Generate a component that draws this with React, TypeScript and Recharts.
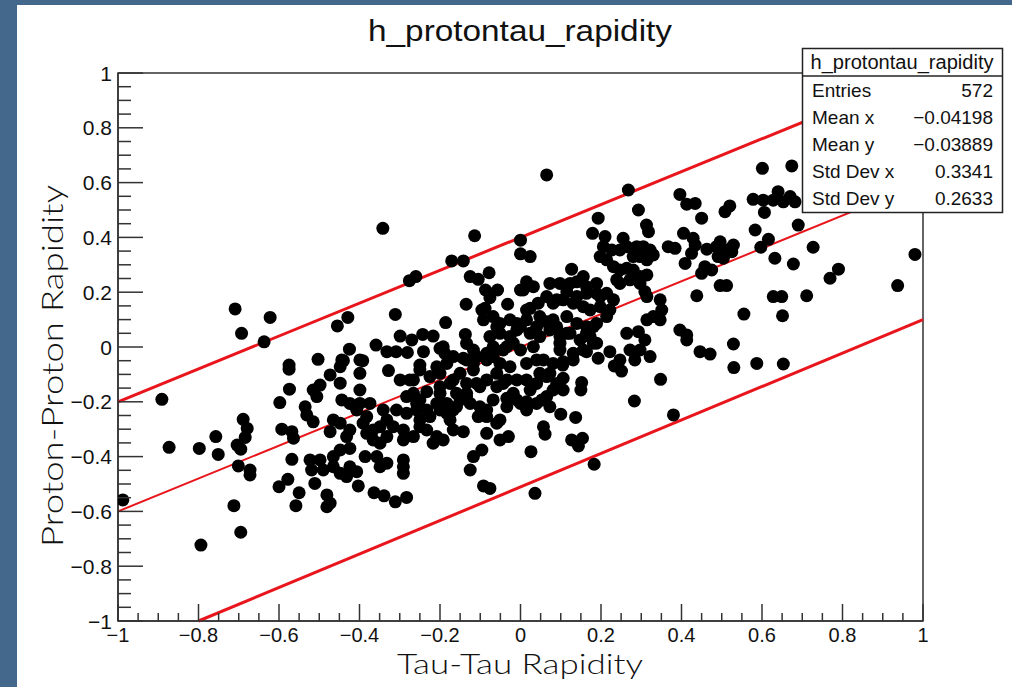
import React from 'react';
import { ScatterChart, Scatter, XAxis, YAxis, ReferenceLine, ReferenceArea } from 'recharts';

// tau-tau rapidity (x), proton-proton rapidity (y)
const points: [number, number][] = [
  [-0.342, 0.433], [-0.114, 0.406], [0, 0.39], [0, 0.34], [-0.171, 0.314], [-0.142, 0.314],
  [-0.276, 0.242], [-0.26, 0.257], [-0.125, 0.257], [-0.105, 0.247], [-0.078, 0.271],
  [-0.087, 0.208], [-0.057, 0.208], [0, 0.208], [-0.135, 0.156], [-0.032, 0.156], [-0.076, 0.18],
  [-0.709, 0.139], [-0.693, 0.05], [-0.622, 0.108], [-0.637, 0.019], [-0.429, 0.108],
  [-0.455, 0.077], [-0.311, 0.119], [-0.186, 0.089], [-0.299, 0.04], [-0.27, 0.026],
  [-0.243, 0.046], [-0.217, 0.04], [-0.137, 0.046], [-0.134, 0.013], [-0.359, 0.007],
  [-0.425, -0.008], [-0.332, -0.017], [-0.309, -0.017], [-0.281, -0.02], [-0.241, -0.017],
  [-0.2, -0.005], [-0.188, -0.023], [-0.167, -0.035], [-0.142, -0.041], [-0.503, -0.045],
  [-0.44, -0.05], [-0.392, -0.05], [-0.575, -0.066], [-0.25, -0.066],
  [-0.096, 0.135], [-0.092, 0.099], [-0.068, 0.111], [-0.051, 0.086], [-0.026, 0.099],
  [-0.009, 0.086], [-0.117, -0.011], [-0.109, -0.035], [-0.084, -0.023], [-0.068, 0.001],
  [-0.043, -0.011], [-0.018, 0.014], [-0.076, 0.038], [-0.051, 0.05], [-0.026, 0.038],
  [-0.009, 0.062], [-0.059, 0.074], [-0.117, -0.06],
  [0.065, 0.628], [0.268, 0.573], [0.601, 0.652], [0.674, 0.661], [0.396, 0.557], [0.413, 0.521],
  [0.434, 0.524], [0.508, 0.494], [0.52, 0.515], [0.45, 0.47], [0.293, 0.5], [0.193, 0.47],
  [0.578, 0.539], [0.603, 0.536], [0.628, 0.536], [0.64, 0.567], [0.653, 0.53], [0.67, 0.549],
  [0.682, 0.53], [0.606, 0.491], [0.583, 0.427], [0.616, 0.393], [0.597, 0.364], [0.69, 0.445],
  [0.727, 0.364], [0.632, 0.324], [0.678, 0.303], [0.79, 0.284], [0.769, 0.251], [0.98, 0.338],
  [0.937, 0.224], [0.711, 0.187], [0.628, 0.184], [0.649, 0.184], [0.651, 0.114], [0.555, 0.12],
  [0.529, 0.011], [0.496, 0.224], [0.512, 0.224], [0.438, 0.187], [0.458, 0.293], [0.475, 0.281],
  [0.45, 0.269], [0.405, 0.415], [0.429, 0.397], [0.434, 0.372], [0.463, 0.357], [0.487, 0.366],
  [0.496, 0.384], [0.512, 0.354], [0.529, 0.372], [0.525, 0.348], [0.491, 0.33], [0.504, 0.324],
  [0.409, 0.305], [0.425, 0.342], [0.367, 0.366], [0.384, 0.36], [0.313, 0.445], [0.318, 0.421],
  [0.255, 0.397], [0.264, 0.366], [0.247, 0.354], [0.21, 0.403], [0.206, 0.366], [0.227, 0.354],
  [0.198, 0.33], [0.214, 0.318], [0.179, 0.415], [0.289, 0.366], [0.305, 0.366], [0.322, 0.354],
  [0.28, 0.33], [0.297, 0.33], [0.314, 0.318], [0.33, 0.336], [0.231, 0.293], [0.247, 0.281],
  [0.264, 0.287], [0.28, 0.281], [0.297, 0.257], [0.314, 0.263], [0.239, 0.245], [0.247, 0.232],
  [0.272, 0.245], [0.297, 0.232], [0.309, 0.202], [0.314, 0.184], [0.347, 0.172], [0.351, 0.135],
  [0.33, 0.111], [0.347, 0.099], [0.314, 0.099], [0.127, 0.284], [0.156, 0.257], [0.14, 0.238],
  [0.164, 0.22], [0.189, 0.232], [0.189, 0.196], [0.214, 0.196], [0.231, 0.172], [0.073, 0.232],
  [0.098, 0.232], [0.123, 0.232], [0.015, 0.238], [0.032, 0.22], [0.007, 0.208], [0.024, 0.33],
  [0.044, 0.16], [0.065, 0.184], [0.081, 0.16], [0.106, 0.172], [0.131, 0.16], [0.156, 0.147],
  [0.173, 0.135], [0.198, 0.147], [0.222, 0.135], [0.015, 0.135], [0.048, 0.111], [0.081, 0.099],
  [0.115, 0.111], [0.14, 0.086], [0.164, 0.074], [0.189, 0.086], [0.214, 0.111], [0, 0.074],
  [0.024, 0.05], [0.048, 0.038], [0.073, 0.062], [0.098, 0.038], [0.123, 0.05], [0.148, 0.026],
  [0.173, 0.038], [0.189, 0.014], [0.264, 0.05], [0.293, 0.056], [0.309, 0.026], [0.297, -0.011],
  [0.272, -0.011], [0.396, 0.062], [0.413, 0.044], [0.413, 0.026], [0.446, -0.017], [0.471, -0.026],
  [0.222, -0.017], [0.247, -0.047], [0.106, -0.054], [0.131, -0.023], [0.164, -0.017],
  [0.193, -0.041], [0.587, -0.06], [0.653, -0.062], [0.284, -0.047], [0.322, -0.035],
  [-0.891, -0.191], [-0.988, -0.558], [-0.873, -0.366], [-0.798, -0.37], [-0.751, -0.392],
  [-0.757, -0.327], [-0.689, -0.264], [-0.679, -0.297], [-0.684, -0.33], [-0.704, -0.358],
  [-0.695, -0.373], [-0.701, -0.434], [-0.672, -0.449], [-0.672, -0.467], [-0.712, -0.579],
  [-0.695, -0.676], [-0.794, -0.723], [-0.575, -0.081], [-0.574, -0.154], [-0.598, -0.203],
  [-0.593, -0.3], [-0.568, -0.309], [-0.564, -0.333], [-0.568, -0.41], [-0.578, -0.483],
  [-0.6, -0.51], [-0.55, -0.532], [-0.558, -0.579], [-0.511, -0.498], [-0.481, -0.54],
  [-0.473, -0.57], [-0.481, -0.583], [-0.523, -0.412], [-0.498, -0.412], [-0.519, -0.449],
  [-0.49, -0.449], [-0.465, -0.4], [-0.448, -0.376], [-0.424, -0.37], [-0.465, -0.437],
  [-0.448, -0.461], [-0.424, -0.437], [-0.407, -0.455], [-0.432, -0.473], [-0.386, -0.4],
  [-0.403, -0.507], [-0.364, -0.532], [-0.339, -0.543], [-0.311, -0.565], [-0.283, -0.549],
  [-0.357, -0.4], [-0.349, -0.437], [-0.332, -0.424], [-0.291, -0.412], [-0.291, -0.437],
  [-0.291, -0.461], [-0.535, -0.218], [-0.531, -0.248], [-0.515, -0.273], [-0.515, -0.157],
  [-0.498, -0.139], [-0.506, -0.181], [-0.473, -0.102], [-0.448, -0.132], [-0.448, -0.072],
  [-0.444, -0.047], [-0.399, -0.096], [-0.399, -0.157], [-0.399, -0.047], [-0.328, -0.086],
  [-0.465, -0.266], [-0.448, -0.278], [-0.424, -0.303], [-0.432, -0.327], [-0.473, -0.309],
  [-0.444, -0.193], [-0.424, -0.206], [-0.399, -0.206], [-0.407, -0.23], [-0.382, -0.254],
  [-0.374, -0.206], [-0.391, -0.278], [-0.382, -0.315], [-0.366, -0.303], [-0.366, -0.339],
  [-0.349, -0.351], [-0.332, -0.327], [-0.349, -0.291], [-0.332, -0.266], [-0.341, -0.23],
  [-0.308, -0.23], [-0.283, -0.242], [-0.258, -0.23], [-0.25, -0.193], [-0.266, -0.169],
  [-0.299, -0.12], [-0.266, -0.12], [-0.25, -0.084], [-0.2, -0.096], [-0.2, -0.145],
  [-0.233, -0.163], [-0.316, -0.291], [-0.291, -0.303], [-0.266, -0.327], [-0.291, -0.339],
  [-0.25, -0.291], [-0.233, -0.303], [-0.208, -0.327], [-0.217, -0.351], [-0.192, -0.339],
  [-0.167, -0.303], [-0.142, -0.309], [-0.25, -0.266], [-0.225, -0.254], [-0.2, -0.23],
  [-0.167, -0.23], [-0.15, -0.193], [-0.125, -0.206], [-0.101, -0.218], [-0.084, -0.254],
  [-0.051, -0.266], [-0.068, -0.193], [-0.034, -0.187], [-0.051, -0.339], [-0.03, -0.327],
  [-0.084, -0.315], [-0.018, -0.169], [-0.125, -0.449], [-0.117, -0.4], [-0.096, -0.376],
  [-0.092, -0.507], [-0.076, -0.516], [-0.105, -0.254], [-0.208, -0.072], [-0.183, -0.06],
  [-0.167, -0.12], [-0.15, -0.096], [-0.134, -0.133], [-0.117, -0.084], [-0.101, -0.145],
  [-0.084, -0.12], [-0.059, -0.096], [-0.043, -0.133], [-0.026, -0.072], [-0.009, -0.12],
  [-0.125, -0.047], [-0.084, -0.047], [-0.159, -0.169], [-0.134, -0.169], [-0.2, -0.169],
  [-0.183, -0.206],
  [0.036, -0.534], [0.183, -0.428], [0.38, -0.248], [0.283, -0.197], [0.348, -0.118],
  [0.53, -0.075], [0.233, -0.069], [0.251, -0.088], [0.026, -0.382], [0.061, -0.318],
  [0.127, -0.339], [0.144, -0.361], [0.154, -0.333], [0.1, -0.245], [0.137, -0.257],
  [0.152, -0.13], [0.15, -0.157], [0.105, -0.066], [0.131, -0.047], [0.106, -0.114],
  [0.106, -0.157], [0.081, -0.157], [0.073, -0.218], [0.053, -0.193], [0.024, -0.157],
  [0.015, -0.2], [0, -0.206], [0.048, -0.096], [0.073, -0.096], [0.015, -0.06], [0.04, -0.047],
  // dense core
  [0.115, 0.202], [0.024, 0.141], [0.09, 0.172], [0.14, 0.184], [0.164, 0.196], [0.198, 0.184],
  [0.015, 0.099], [0.04, 0.074], [0.065, 0.092], [0.09, 0.074], [0.181, 0.074], [-0.088, 0.141],
  [-0.192, 0.001], [-0.134, -0.047], [-0.034, 0.001], [0, -0.011], [0.032, 0.001], [0.098, 0.014],
  [0.115, 0.05], [0.164, 0.05], [0.181, 0.014], [-0.068, -0.035], [-0.051, -0.06], [0.057, -0.047],
  [0.081, -0.06], [0.156, -0.011], [0.098, -0.011], [-0.225, -0.108], [-0.175, -0.133],
  [-0.275, -0.12], [-0.109, -0.133], [-0.059, -0.145], [-0.034, -0.12], [0.015, -0.12],
  [0.04, -0.133], [0.065, -0.108], [0.09, -0.133], [-0.283, -0.181], [-0.258, -0.206],
  [-0.233, -0.23], [-0.208, -0.206], [-0.183, -0.242], [-0.159, -0.218], [-0.134, -0.181],
  [-0.084, -0.23], [-0.034, -0.218], [-0.009, -0.193], [0.015, -0.23], [0.04, -0.206],
  [0.065, -0.181], [-0.175, -0.266], [-0.059, -0.278], [0.057, -0.291],
];

// the three red lines (end points, data units)
const upperBand = [{ x: -1, y: -0.2 }, { x: 1, y: 1 }];
const centreLine = [{ x: -1, y: -0.6 }, { x: 1, y: 0.6 }];
const lowerBand = [{ x: -0.8, y: -1 }, { x: 1, y: 0.1 }];

const axisTicks = [
  -1, -0.95, -0.9, -0.85, -0.8, -0.75, -0.7, -0.65, -0.6, -0.55, -0.5, -0.45, -0.4, -0.35,
  -0.3, -0.25, -0.2, -0.15, -0.1, -0.05, 0, 0.05, 0.1, 0.15, 0.2, 0.25, 0.3, 0.35, 0.4, 0.45,
  0.5, 0.55, 0.6, 0.65, 0.7, 0.75, 0.8, 0.85, 0.9, 0.95, 1,
];
const majorTicks = [-1, -0.8, -0.6, -0.4, -0.2, 0, 0.2, 0.4, 0.6, 0.8, 1];

const statsLabels = ['Entries', 'Mean x', 'Mean y', 'Std Dev x', 'Std Dev y'];
const statsValues = ['572', '\u22120.04198', '\u22120.03889', '0.3341', '0.2633'];

const histName = 'h_protontau_rapidity';
const HELV = '"Liberation Sans", Arial, Helvetica, sans-serif';
const GOTHIC = 'Lato, "Noto Sans", sans-serif';
const RED = '#e8161c';

const pointData = points.map(([x, y]) => ({ x, y }));

const isMajor = (v: number) => majorTicks.some((m) => Math.abs(m - v) < 1e-6);
const fmt = (v: number) => {
  const r = Math.round(v * 10) / 10;
  return r < 0 ? '\u2212' + String(-r) : String(r);
};

// ROOT style: ticks point into the frame, labels outside
function XTick(props: any) {
  const { x, y, payload } = props;
  const major = isMajor(payload.value);
  return (
    <g>
      <line x1={x} x2={x} y1={y} y2={y - (major ? 17 : 8)} stroke="#333" strokeWidth={1.5} />
      {major && (
        <text x={x} y={y + 21} textAnchor="middle" fontSize={20} fontFamily={HELV} fill="#111">
          {fmt(payload.value)}
        </text>
      )}
    </g>
  );
}

function YTick(props: any) {
  const { x, y, payload } = props;
  const major = isMajor(payload.value);
  return (
    <g>
      <line x1={x} x2={x + (major ? 25 : 13)} y1={y} y2={y} stroke="#333" strokeWidth={1.5} />
      {major && (
        <text x={x - 6} y={y + 7.5} textAnchor="end" fontSize={21} fontFamily={HELV} fill="#111">
          {fmt(payload.value)}
        </text>
      )}
    </g>
  );
}

const Dot = (p: any) => <circle cx={p.cx} cy={p.cy} r={6.5} fill="#000" />;

export default function App() {
  return (
    <div style={{ position: 'fixed', left: 0, top: 0, width: 1012, height: 687, background: '#43688c', overflow: 'hidden' }}>
      <div style={{ position: 'absolute', left: 17, top: 5, right: 0, bottom: 0, background: '#fff' }} />
      <div style={{ position: 'absolute', left: 0, top: 0 }}>
        <ScatterChart width={1012} height={687} margin={{ top: 73, right: 89, bottom: 36, left: 58 }}>
          <XAxis
            type="number"
            dataKey="x"
            domain={[-1, 1]}
            ticks={axisTicks}
            interval={0}
            height={30}
            tickSize={0}
            tickMargin={0}
            tick={XTick}
            axisLine={{ stroke: '#333', strokeWidth: 1.5 }}
            allowDataOverflow
          />
          <YAxis
            type="number"
            dataKey="y"
            domain={[-1, 1]}
            ticks={axisTicks}
            interval={0}
            width={60}
            tickSize={0}
            tickMargin={0}
            tick={YTick}
            axisLine={{ stroke: '#333', strokeWidth: 1.5 }}
            allowDataOverflow
          />
          <ReferenceArea x1={-1} x2={1} y1={-1} y2={1} fill="none" fillOpacity={0} stroke="#333" strokeWidth={1.5} />
          <Scatter data={pointData} shape={Dot} isAnimationActive={false} />
          <ReferenceLine segment={upperBand} stroke={RED} strokeWidth={3} />
          <ReferenceLine segment={centreLine} stroke={RED} strokeWidth={2} />
          <ReferenceLine segment={lowerBand} stroke={RED} strokeWidth={3} />
        </ScatterChart>
      </div>
      <svg width={1012} height={687} style={{ position: 'absolute', left: 0, top: 0, pointerEvents: 'none' }}>
        <text x={520} y={41} textAnchor="middle" fontSize={30} fontFamily={HELV} fill="#111" textLength={304} lengthAdjust="spacingAndGlyphs">
          {histName}
        </text>
        <text x={520} y={674} textAnchor="middle" fontSize={28} fontFamily={GOTHIC} fontWeight={300} fill="#111" textLength={246} lengthAdjust="spacingAndGlyphs">
          Tau-Tau Rapidity
        </text>
        <text transform="translate(63,366) rotate(-90)" textAnchor="middle" fontSize={30} fontFamily={GOTHIC} fontWeight={300} fill="#111" textLength={362} lengthAdjust="spacingAndGlyphs">
          Proton-Proton Rapidity
        </text>
        <rect x={802.5} y={48.5} width={200} height={164} fill="#fff" stroke="#222" strokeWidth={1.5} />
        <line x1={802.5} x2={1002.5} y1={76} y2={76} stroke="#222" strokeWidth={1.5} />
        <text x={902} y={69} textAnchor="middle" fontSize={20} fontFamily={HELV} fill="#111" textLength={183} lengthAdjust="spacingAndGlyphs">
          {histName}
        </text>
        {statsLabels.map((label, i) => (
          <g key={label}>
            <text x={812} y={97 + i * 27} fontSize={19} fontFamily={HELV} fill="#111">{label}</text>
            <text x={993} y={97 + i * 27} textAnchor="end" fontSize={19} fontFamily={HELV} fill="#111">{statsValues[i]}</text>
          </g>
        ))}
      </svg>
    </div>
  );
}
